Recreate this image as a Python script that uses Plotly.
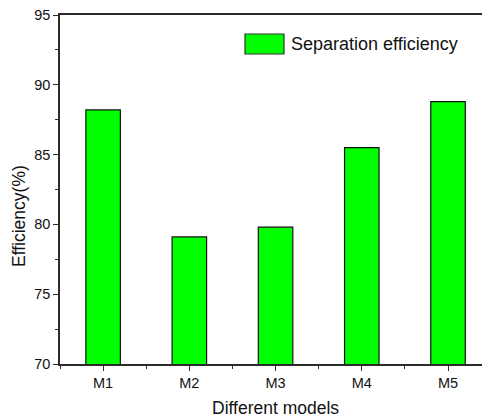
import plotly.graph_objects as go

categories = ["M1", "M2", "M3", "M4", "M5"]
efficiency = [88.2, 79.1, 79.8, 85.5, 88.8]
series_name = "Separation efficiency"
y_ticks = [70, 75, 80, 85, 90, 95]

W, H = 482, 417
L, R, T, B = 60, 0, 15, 53
pw, ph = W - L - R, H - T - B

def px_x(px):
    return (px - L) / pw

def px_y(py):
    return (H - B - py) / ph

xpos = list(range(1, len(categories) + 1))
font = "Liberation Sans, Arial, sans-serif"
axcol = "#2b2b2b"

fig = go.Figure()
fig.add_trace(go.Bar(
    x=xpos, y=efficiency, name=series_name, width=0.4,
    marker=dict(color="#00FF00", line=dict(color="#111111", width=1.2)),
    showlegend=False,
))

fig.update_layout(
    width=W, height=H,
    margin=dict(l=L, r=R, t=T, b=B),
    paper_bgcolor="white", plot_bgcolor="white",
    font=dict(family=font, color="#111111"),
    xaxis=dict(
        range=[0.5, 5.394], tickvals=xpos, ticktext=categories,
        ticks="outside", ticklen=5, tickwidth=1.3, tickcolor=axcol,
        showline=True, linecolor=axcol, linewidth=1.5, mirror=True,
        showgrid=False, zeroline=False,
        tickfont=dict(family=font, size=14.5, color="#111111"),
        minor=dict(tick0=0.5, dtick=1, ticks="outside", ticklen=3,
                   tickwidth=1.3, tickcolor=axcol, showgrid=False),
    ),
    yaxis=dict(
        range=[70, 95], tickvals=y_ticks,
        ticks="outside", ticklen=5, tickwidth=1.3, tickcolor=axcol,
        showline=True, linecolor=axcol, linewidth=1.5,
        showgrid=False, zeroline=False,
        tickfont=dict(family=font, size=14.5, color="#111111"),
        minor=dict(tick0=72.5, dtick=5, ticks="outside", ticklen=3,
                   tickwidth=1.3, tickcolor=axcol, showgrid=False),
    ),
)

# axis titles
fig.add_annotation(text="Different models", xref="x", yref="paper",
                   x=3, y=px_y(408), showarrow=False,
                   font=dict(family=font, size=17.5, color="#111111"),
                   xanchor="center", yanchor="middle")
fig.add_annotation(text="Efficiency(%)", xref="paper", yref="paper",
                   x=px_x(19), y=px_y(216), showarrow=False, textangle=-90,
                   font=dict(family=font, size=17.5, color="#111111"),
                   xanchor="center", yanchor="middle")

# legend
fig.add_shape(type="rect", xref="paper", yref="paper",
              x0=px_x(245), x1=px_x(284), y0=px_y(54), y1=px_y(34),
              fillcolor="#00FF00", line=dict(color="#333333", width=1.2))
fig.add_annotation(text=series_name, xref="paper", yref="paper",
                   x=px_x(289), y=px_y(44), showarrow=False,
                   font=dict(family=font, size=18, color="#111111"),
                   xanchor="left", yanchor="middle")

fig.write_html(
    "out.html",
    config={"displayModeBar": False},
    post_script="document.body.style.margin='0';document.body.style.overflow='hidden';",
)
